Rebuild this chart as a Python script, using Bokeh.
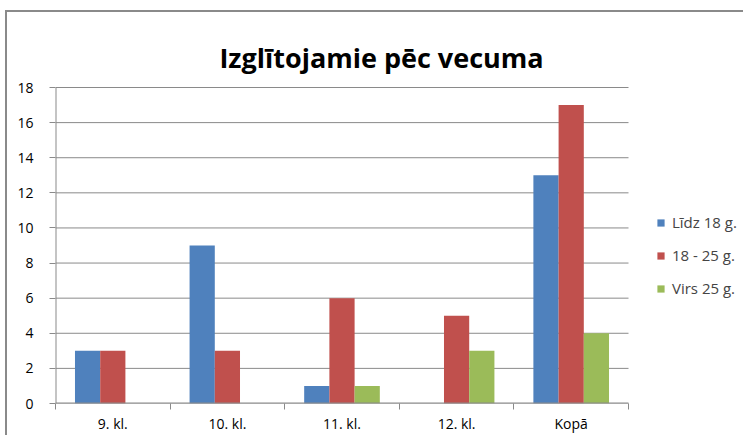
from bokeh.plotting import figure
from bokeh.models import Range1d, FixedTicker, Legend, LegendItem, Label
from bokeh.embed import file_html
from bokeh.resources import INLINE

# ---- data ----
categories = ["9. kl.", "10. kl.", "11. kl.", "12. kl.", "Kopā"]
series_names = ["Līdz 18 g.", "18 - 25 g.", "Virs 25 g."]
lidz_18 = [3, 9, 1, 0, 13]
no_18_lidz_25 = [3, 3, 6, 5, 17]
virs_25 = [0, 0, 1, 3, 4]
y_ticks = [0, 2, 4, 6, 8, 10, 12, 14, 16, 18]
title_text = "Izglītojamie pēc vecuma"

series_values = [lidz_18, no_18_lidz_25, virs_25]
colors = ["#4F81BD", "#C0504D", "#9BBB59"]
FONT = "Open Sans"
GRID = "#8a8a8a"

# layout (pixels inside the figure)
W, H = 738, 425
LEFT, TOP, BOTTOM = 48, 3, 34
PLOT_W = 573          # width used by the categories
PLOT_H = 316          # height used by 0..18
frame_w = W - LEFT
frame_h = H - TOP - BOTTOM
n = len(categories)
y_max = y_ticks[-1]
x_end = n * frame_w / PLOT_W
y_end = y_max * frame_h / PLOT_H

p = figure(width=W, height=H, output_backend="svg", toolbar_location=None,
           x_range=Range1d(0, x_end), y_range=Range1d(0, y_end),
           min_border_left=LEFT, min_border_right=0, min_border_top=TOP,
           min_border_bottom=BOTTOM)
p.outline_line_color = None
p.background_fill_color = "white"
p.border_fill_color = "white"
p.styles = {"border-left": "2px solid #8a8a8a", "border-top": "2px solid #8a8a8a",
            "margin-left": "5px", "margin-top": "10px"}

# gridlines only across the category area
p.segment(x0=[0] * len(y_ticks), x1=[n] * len(y_ticks), y0=y_ticks, y1=y_ticks,
          line_color=GRID, line_width=1)
# y axis line
p.segment(x0=[0], x1=[0], y0=[0], y1=[y_max], line_color=GRID, line_width=2)

bar_w = 0.22
renderers = []
for s, vals in enumerate(series_values):
    off = (s - 1) * bar_w
    xs = [i + 0.5 + off for i in range(n)]
    r = p.vbar(x=xs, top=vals, bottom=0, width=bar_w, fill_color=colors[s],
               line_color=None)
    renderers.append(r)

# x axis line
p.segment(x0=[0], x1=[n], y0=[0], y1=[0], line_color=GRID, line_width=2)

# y axis
p.yaxis.ticker = FixedTicker(ticks=y_ticks)
p.yaxis.axis_line_color = None
p.yaxis.major_tick_line_color = GRID
p.yaxis.major_tick_out = 6
p.yaxis.major_tick_in = 0
p.yaxis.minor_tick_line_color = None
p.yaxis.major_label_standoff = 16
p.yaxis.major_label_text_font = FONT
p.yaxis.major_label_text_font_size = "14px"
p.yaxis.major_label_text_color = "black"

# x axis: labels at centers, tick marks at category boundaries
p.xaxis.ticker = FixedTicker(ticks=[i + 0.5 for i in range(n)],
                             minor_ticks=list(range(n + 1)))
p.xaxis.major_label_overrides = {i + 0.5: c for i, c in enumerate(categories)}
p.xaxis.axis_line_color = None
p.xaxis.major_tick_line_color = None
p.xaxis.major_tick_out = 0
p.xaxis.major_tick_in = 0
p.xaxis.minor_tick_line_color = GRID
p.xaxis.minor_tick_out = 6
p.xaxis.minor_tick_in = 0
p.xaxis.major_label_standoff = 4
p.xaxis.major_label_text_font = FONT
p.xaxis.major_label_text_font_size = "14px"
p.xaxis.major_label_text_color = "black"

p.xgrid.grid_line_color = None
p.ygrid.grid_line_color = None

legend = Legend(items=[LegendItem(label=nm, renderers=[r]) for nm, r in zip(series_names, renderers)],
                location=(601, 105), glyph_width=9, glyph_height=9, label_standoff=7,
                spacing=13, padding=0, margin=0, border_line_color=None,
                background_fill_alpha=0, label_text_font=FONT,
                label_text_font_size="15px", label_height=20)
p.add_layout(legend)

title = Label(x=326, y=346, x_units="screen", y_units="screen", text=title_text,
              text_align="center", text_baseline="alphabetic", text_font=FONT,
              text_font_size="27px", text_font_style="bold", text_color="black")
p.add_layout(title)

open("out.html", "w").write(file_html(p, INLINE))
